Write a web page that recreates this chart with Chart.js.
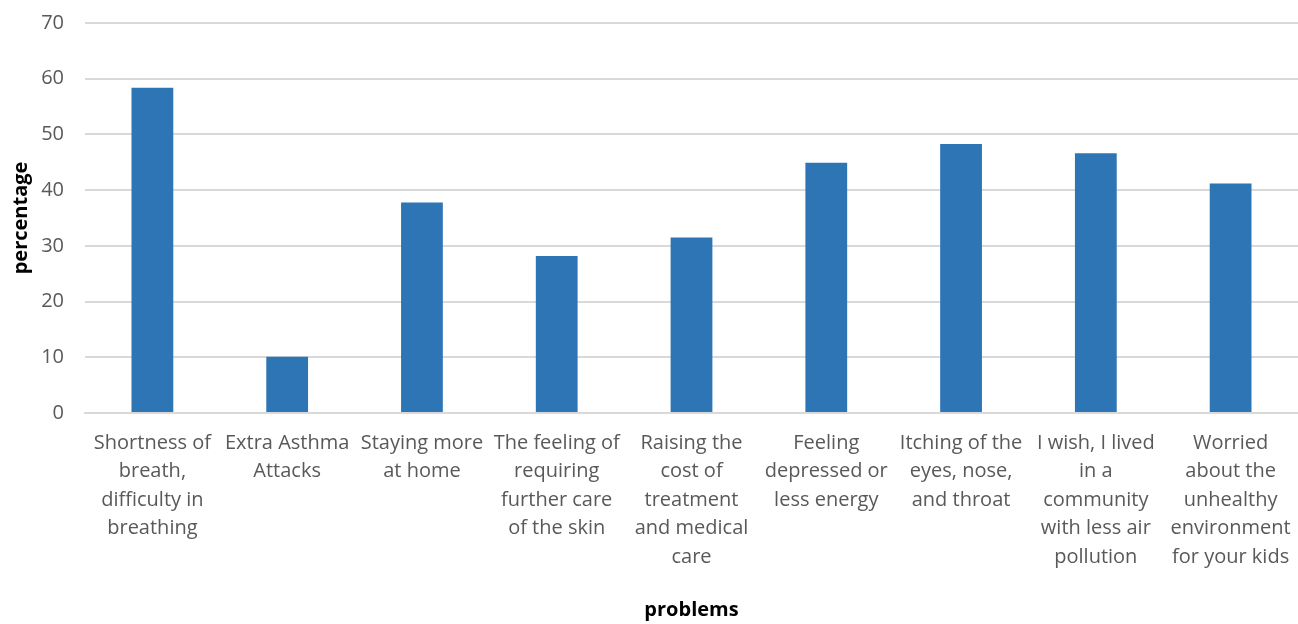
<!DOCTYPE html>
<html>
<head>
<meta charset="utf-8">
<script src="https://cdn.jsdelivr.net/npm/chart.js@4/dist/chart.umd.min.js"></script>
<style>
  html, body { margin: 0; padding: 0; background: #fff; }
  #wrap { width: 1298px; height: 624px; }
</style>
</head>
<body>
<div id="wrap"><canvas id="problemsChart"></canvas></div>
<script>
const categories = [
    ["Shortness of", "breath,", "difficulty in", "breathing"],
    ["Extra Asthma", "Attacks"],
    ["Staying more", "at home"],
    ["The feeling of", "requiring", "further care", "of the skin"],
    ["Raising the", "cost of", "treatment", "and medical", "care"],
    ["Feeling", "depressed or", "less energy"],
    ["Itching of the", "eyes, nose,", "and throat"],
    ["I wish, I lived", "in a", "community", "with less air", "pollution"],
    ["Worried", "about the", "unhealthy", "environment", "for your kids"]
];
const percentages = [58.4, 10.1, 37.8, 28.2, 31.5, 44.9, 48.3, 46.6, 41.2];
const yTicks = [0, 10, 20, 30, 40, 50, 60, 70];

const fontFamily = "'Open Sans', 'Noto Sans', sans-serif";

new Chart(document.getElementById('problemsChart'), {
    type: 'bar',
    data: {
        labels: categories,
        datasets: [{
            label: 'percentage',
            data: percentages,
            backgroundColor: '#2e75b6',
            borderWidth: 0,
            categoryPercentage: 1,
            barPercentage: 0.31
        }]
    },
    options: {
        responsive: true,
        maintainAspectRatio: false,
        animation: false,
        // the original picture is cropped a few pixels inside its plot area
        layout: { padding: { top: 0, right: -3, left: 0, bottom: 0 } },
        plugins: {
            legend: { display: false },
            tooltip: { enabled: false }
        },
        scales: {
            x: {
                grid: { display: false },
                border: { display: true, color: '#d9d9d9', width: 2 },
                ticks: {
                    color: '#595959',
                    font: { family: fontFamily, size: 20, lineHeight: 1.42 },
                    maxRotation: 0,
                    autoSkip: false,
                    padding: 8
                },
                title: {
                    display: true,
                    text: 'problems',
                    color: '#000',
                    font: { family: fontFamily, size: 20, weight: 'bold' },
                    padding: { top: 20, bottom: 2 }
                },
                afterFit: axis => {
                    axis.height = 211;
                    axis.paddingLeft = 0;
                    axis.paddingRight = 0;
                }
            },
            y: {
                min: 0,
                max: 70,
                afterBuildTicks: axis => {
                    axis.ticks = yTicks.map(v => ({ value: v }));
                },
                grid: { color: '#d9d9d9', lineWidth: 2, drawTicks: false },
                border: { display: false },
                ticks: {
                    color: '#595959',
                    font: { family: fontFamily, size: 20 },
                    padding: 21
                },
                title: {
                    display: true,
                    text: 'percentage',
                    color: '#000',
                    font: { family: fontFamily, size: 20, weight: 'bold' },
                    padding: { top: 9, bottom: 8 }
                },
                afterFit: axis => {
                    axis.width = 85;
                    axis.paddingTop = 23;
                    axis.paddingBottom = 0;
                }
            }
        }
    }
});
</script>
</body>
</html>
